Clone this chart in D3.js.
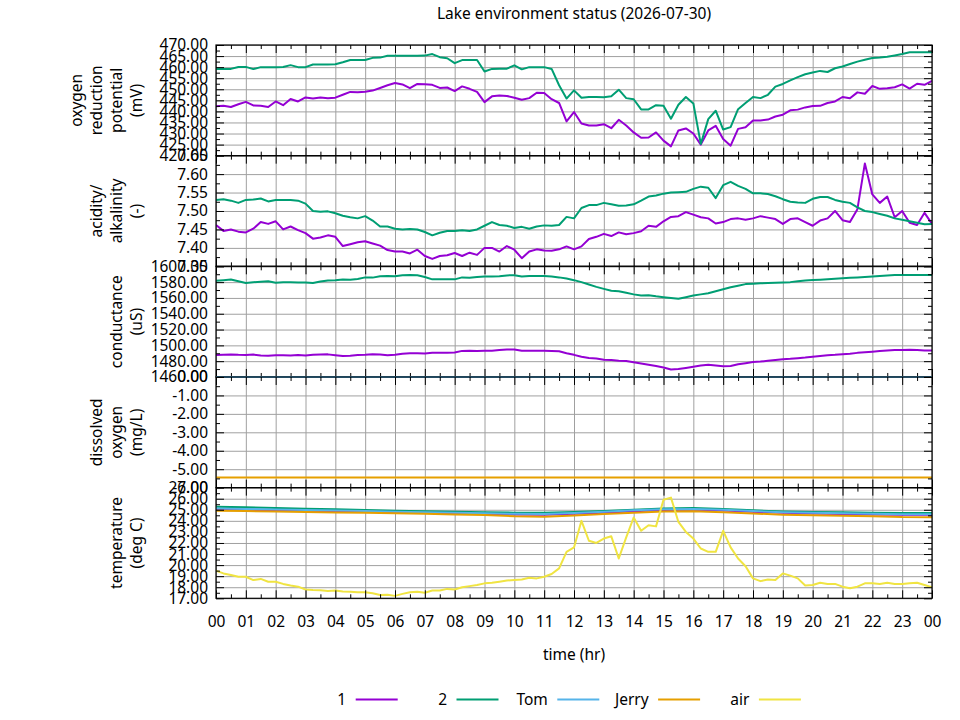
<!DOCTYPE html>
<html>
<head>
<meta charset="utf-8">
<script src="https://cdn.jsdelivr.net/npm/d3@7"></script>
<style>
  body { margin: 0; background: #fff; }
  svg { display: block; }
  text { font-family: "Noto Sans", sans-serif; font-size: 15.5px; fill: #000; }
</style>
</head>
<body>
<svg id="chart" width="960" height="720"></svg>
<script>
// ---- data -------------------------------------------------------------
const title = "Lake environment status (2026-07-30)";
const seriesNames = ["1", "2", "Tom", "Jerry", "air"];
const seriesColors = ["#9400d3", "#009e73", "#56b4e9", "#e69f00", "#f0e442"];

// sample clocks: every 15 minutes, every hour, and the day's two ends
const quarterHours = d3.range(0, 24.001, 0.25);
const wholeHours = d3.range(0, 25);
const dayEnds = [0, 24];

// oxygen reduction potential (mV), one row per hour
const orp1 = [
  442.3, 442.6, 442.0, 443.2,  444.3, 442.7, 442.5, 442.0,  444.5, 442.8, 445.6, 444.5,
  446.3, 445.8, 446.3, 445.9,  446.2, 447.5, 448.8, 448.6,  448.9, 449.4, 450.6, 451.8,
  452.8, 452.2, 450.5, 452.4,  452.3, 452.0, 450.6, 450.8,  449.2, 451.3, 450.2, 448.8,
  444.2, 446.8, 447.2, 447.0,  446.2, 445.3, 446.0, 448.4,  448.3, 445.5, 443.8, 435.5,
  439.7, 434.5, 433.6, 433.6,  434.2, 432.4, 436.2, 433.6,  430.5, 428.1, 428.2, 430.5,
  426.8, 424.2, 431.4, 432.3,  430.0, 425.0, 431.4, 433.5,  427.5, 424.5, 432.1, 432.8,
  435.9, 435.9, 436.3, 437.7,  438.5, 440.5, 440.8, 441.8,  442.4, 442.5, 443.8, 444.5,
  446.5, 445.9, 448.6, 448.0,  451.5, 450.2, 450.5, 450.9,  452.2, 450.3, 452.5, 452.0,
  453.8
];
const orp2 = [
  459.1, 459.1, 459.2, 460.1,  460.1, 459.1, 460.0, 460.0,  460.0, 460.1, 460.9, 460.0,
  460.0, 461.2, 461.2, 461.2,  461.3, 462.2, 463.2, 463.2,  463.2, 464.2, 464.3, 465.1,
  465.1, 465.1, 465.1, 465.1,  465.2, 465.9, 464.5, 464.0,  461.8, 463.2, 463.2, 463.2,
  458.0, 459.2, 459.3, 459.3,  460.8, 459.0, 460.0, 460.0,  460.0, 459.2, 451.8, 445.8,
  449.5, 446.2, 446.5, 446.5,  446.4, 446.8, 449.8, 446.0,  445.5, 440.9, 440.9, 442.8,
  442.5, 436.7, 443.0, 446.5,  443.6, 425.3, 436.5, 440.3,  431.8, 432.9, 441.0, 443.8,
  446.5, 446.0, 447.5, 451.2,  452.4, 454.0, 455.5, 456.8,  457.6, 458.3, 457.8, 459.5,
  460.3, 461.4, 462.5, 463.3,  464.1, 464.3, 464.7, 465.3,  465.9, 466.7, 466.7, 466.7,
  466.7
];

// acidity / alkalinity (pH)
const ph1 = [
  7.462, 7.446, 7.450, 7.444,  7.442, 7.452, 7.470, 7.465,  7.472, 7.450, 7.458, 7.448,
  7.440, 7.425, 7.428, 7.434,  7.430, 7.405, 7.410, 7.415,  7.418, 7.412, 7.406, 7.394,
  7.390, 7.390, 7.385, 7.395,  7.378, 7.370, 7.378, 7.380,  7.386, 7.378, 7.387, 7.381,
  7.400, 7.400, 7.390, 7.405,  7.395, 7.372, 7.390, 7.396,  7.393, 7.392, 7.396, 7.404,
  7.396, 7.404, 7.424, 7.430,  7.438, 7.432, 7.442, 7.437,  7.440, 7.445, 7.460, 7.457,
  7.472, 7.484, 7.486, 7.497,  7.490, 7.483, 7.480, 7.466,  7.470, 7.478, 7.480, 7.476,
  7.480, 7.486, 7.482, 7.478,  7.465, 7.478, 7.480, 7.470,  7.460, 7.474, 7.480, 7.500,
  7.475, 7.470, 7.505, 7.629,  7.545, 7.522, 7.539, 7.483,  7.500, 7.468, 7.462, 7.495,
  7.465
];
const ph2 = [
  7.530, 7.532, 7.528, 7.522,  7.530, 7.531, 7.534, 7.526,  7.530, 7.530, 7.530, 7.528,
  7.520, 7.500, 7.498, 7.499,  7.494, 7.487, 7.483, 7.480,  7.486, 7.474, 7.458, 7.458,
  7.452, 7.450, 7.451, 7.450,  7.443, 7.434, 7.441, 7.446,  7.446, 7.448, 7.446, 7.450,
  7.460, 7.470, 7.462, 7.460,  7.454, 7.457, 7.452, 7.458,  7.461, 7.460, 7.462, 7.484,
  7.480, 7.508, 7.516, 7.516,  7.522, 7.518, 7.514, 7.515,  7.518, 7.528, 7.539, 7.542,
  7.547, 7.550, 7.551, 7.552,  7.560, 7.566, 7.563, 7.535,  7.570, 7.579, 7.568, 7.560,
  7.548, 7.548, 7.546, 7.540,  7.532, 7.525, 7.523, 7.522,  7.533, 7.538, 7.538, 7.530,
  7.525, 7.522, 7.510, 7.500,  7.497, 7.492, 7.487, 7.480,  7.476, 7.472, 7.468, 7.464,
  7.465
];

// conductance (uS)
const cond1 = [
  1487.8, 1488.2, 1488.5, 1488.0,  1487.8, 1488.3, 1487.2, 1487.0,  1487.6, 1487.5, 1487.2, 1487.8,
  1487.3, 1488.0, 1488.5, 1488.6,  1487.6, 1486.5, 1487.0, 1487.8,  1488.0, 1488.8, 1488.5, 1487.5,
  1488.0, 1489.5, 1490.0, 1490.0,  1489.8, 1490.6, 1490.6, 1490.8,  1491.0, 1493.0, 1493.2, 1493.0,
  1493.2, 1493.2, 1494.0, 1494.8,  1494.8, 1493.2, 1493.2, 1493.2,  1493.2, 1493.0, 1492.5, 1490.0,
  1488.0, 1485.5, 1484.0, 1483.5,  1481.8, 1481.5, 1480.5, 1480.2,  1478.5, 1477.0, 1475.5, 1474.0,
  1472.0, 1469.5, 1470.0, 1471.5,  1473.0, 1474.5, 1475.5, 1474.5,  1473.5, 1474.0, 1476.0, 1477.5,
  1479.0, 1479.5, 1480.5, 1481.5,  1482.5, 1483.0, 1483.8, 1484.5,  1485.5, 1486.5, 1487.5, 1488.0,
  1488.8, 1489.5, 1490.5, 1491.2,  1492.0, 1492.8, 1493.5, 1494.0,  1494.2, 1494.5, 1494.0, 1493.5,
  1493.6
];
const cond2 = [
  1581.8, 1582.5, 1583.3, 1581.0,  1578.8, 1579.8, 1580.4, 1581.0,  1579.2, 1579.8, 1580.0, 1579.5,
  1579.6, 1579.0, 1580.8, 1582.0,  1582.4, 1583.3, 1583.0, 1584.0,  1586.0, 1585.7, 1587.3, 1587.8,
  1587.5, 1588.8, 1589.0, 1588.8,  1586.5, 1583.5, 1583.6, 1583.8,  1583.5, 1586.0, 1585.5, 1586.5,
  1587.2, 1587.0, 1587.4, 1588.5,  1588.8, 1587.0, 1587.7, 1587.7,  1587.7, 1587.0, 1586.0, 1584.5,
  1582.5, 1580.0, 1577.0, 1574.0,  1571.5, 1569.0, 1568.5, 1566.5,  1564.5, 1563.0, 1563.5, 1562.0,
  1561.0, 1560.0, 1559.0, 1561.0,  1563.0, 1564.5, 1566.0, 1568.5,  1571.0, 1573.5, 1575.5, 1577.5,
  1578.0, 1578.5, 1579.0, 1579.2,  1579.6, 1580.0, 1581.0, 1582.0,  1582.6, 1583.0, 1583.5, 1584.2,
  1585.0, 1585.5, 1586.0, 1586.4,  1587.0, 1587.8, 1588.5, 1588.9,  1589.0, 1589.0, 1589.0, 1589.0,
  1589.0
];

// dissolved oxygen (mg/L)
const doTom = [0.00, 0.00];
const doJerry = [-5.45, -5.45];

// temperature (deg C): lake sensors hourly, air every 15 minutes
const temp1 = [25.08, 25.02, 24.98, 24.92, 24.88, 24.82, 24.76, 24.72, 24.66, 24.62, 24.58, 24.56, 24.64,
               24.74, 24.86, 24.98, 25.02, 24.94, 24.82, 24.72, 24.66, 24.62, 24.58, 24.54, 24.55];
const temp2 = [25.28, 25.22, 25.15, 25.10, 25.05, 24.98, 24.92, 24.87, 24.82, 24.78, 24.74, 24.72, 24.80,
               24.90, 25.00, 25.12, 25.15, 25.08, 24.95, 24.85, 24.80, 24.78, 24.74, 24.70, 24.70];
const tempTom = [25.12, 25.08, 25.03, 24.98, 24.93, 24.88, 24.83, 24.78, 24.73, 24.68, 24.64, 24.62, 24.70,
                 24.82, 24.95, 25.05, 25.08, 25.00, 24.88, 24.78, 24.72, 24.68, 24.64, 24.60, 24.60];
const tempJerry = [24.92, 24.88, 24.85, 24.80, 24.76, 24.72, 24.68, 24.64, 24.58, 24.52, 24.42, 24.38, 24.48,
                   24.62, 24.74, 24.84, 24.86, 24.78, 24.66, 24.56, 24.50, 24.46, 24.42, 24.34, 24.32];
const tempAir = [
  19.50, 19.25, 19.10, 18.95,  18.95, 18.65, 18.75, 18.50,  18.50, 18.30, 18.15, 18.05,
  17.80, 17.75, 17.72, 17.65,  17.70, 17.62, 17.60, 17.55,  17.55, 17.45, 17.30, 17.32,
  17.22, 17.40, 17.55, 17.60,  17.50, 17.70, 17.70, 17.85,  17.80, 18.00, 18.10, 18.20,
  18.35, 18.40, 18.50, 18.60,  18.65, 18.70, 18.85, 18.80,  18.95, 19.20, 19.70, 21.20,
  21.60, 24.00, 22.20, 22.00,  22.40, 22.60, 20.60, 22.50,  24.30, 23.10, 23.60, 23.50,
  25.90, 26.10, 23.90, 23.00,  22.40, 21.50, 21.20, 21.20,  23.10, 21.60, 20.60, 19.90,
  18.80, 18.55, 18.70, 18.65,  19.25, 19.05, 18.80, 18.15,  18.20, 18.40, 18.30, 18.30,
  18.05, 17.90, 18.05, 18.35,  18.35, 18.30, 18.40, 18.30,  18.30, 18.35, 18.40, 18.20,
  18.00
];

// axis ticks
const hourTicks = d3.range(0, 25);
const orpTicks = [420, 425, 430, 435, 440, 445, 450, 455, 460, 465, 470];
const phTicks = [7.35, 7.40, 7.45, 7.50, 7.55, 7.60, 7.65];
const condTicks = [1460, 1480, 1500, 1520, 1540, 1560, 1580, 1600];
const doTicks = [-6, -5, -4, -3, -2, -1, 0];
const tempTicks = [17, 18, 19, 20, 21, 22, 23, 24, 25, 26, 27];

const panels = [
  { label: ["oxygen", "reduction", "potential", "(mV)"], ticks: orpTicks,
    lines: [[0, quarterHours, orp1], [1, quarterHours, orp2]] },
  { label: ["acidity/", "alkalinity", "(-)"], ticks: phTicks,
    lines: [[0, quarterHours, ph1], [1, quarterHours, ph2]] },
  { label: ["conductance", "(uS)"], ticks: condTicks,
    lines: [[0, quarterHours, cond1], [1, quarterHours, cond2]] },
  { label: ["dissolved", "oxygen", "(mg/L)"], ticks: doTicks,
    lines: [[2, dayEnds, doTom], [3, dayEnds, doJerry]] },
  { label: ["temperature", "(deg C)"], ticks: tempTicks,
    lines: [[0, wholeHours, temp1], [1, wholeHours, temp2], [2, wholeHours, tempTom],
            [3, wholeHours, tempJerry], [4, quarterHours, tempAir]] }
];

// ---- layout -----------------------------------------------------------
const plotLeft = 216, plotRight = 932, plotTop = 45, panelH = 110.66;
const majorLen = 8, minorLen = 4;
const gridColor = "#a0a0a0";
// plain hyphen for negatives, like the original
const locale = d3.formatLocale({ decimal: ".", thousands: ",", grouping: [3], currency: ["", ""], minus: "-" });
const fmt = locale.format(".2f");

const svg = d3.select("#chart");
const x = d3.scaleLinear().domain([0, 24]).range([plotLeft, plotRight]);
const halfHours = d3.pairs(hourTicks).map(([a, b]) => (a + b) / 2);

svg.append("text")
  .attr("x", (plotLeft + plotRight) / 2).attr("y", 18.5)
  .attr("text-anchor", "middle")
  .text(title);

const tickStyle = s => {
  s.select(".domain").remove();
  s.selectAll("line").attr("stroke", "#000").attr("stroke-width", 1);
};

panels.forEach((p, i) => {
  const y0 = plotTop + i * panelH, y1 = y0 + panelH;
  const y = d3.scaleLinear().domain(d3.extent(p.ticks)).range([y1, y0]);
  const minorY = d3.pairs(p.ticks).map(([a, b]) => (a + b) / 2);
  const g = svg.append("g");

  // grid
  g.append("g")
    .attr("transform", `translate(0,${y1})`)
    .call(d3.axisBottom(x).tickValues(hourTicks).tickSize(-(y1 - y0)).tickFormat(""))
    .call(s => s.select(".domain").remove())
    .selectAll("line").attr("stroke", gridColor);
  g.append("g")
    .attr("transform", `translate(${plotLeft},0)`)
    .call(d3.axisLeft(y).tickValues(p.ticks).tickSize(-(plotRight - plotLeft)).tickFormat(""))
    .call(s => s.select(".domain").remove())
    .selectAll("line").attr("stroke", gridColor);

  // data
  const clipId = `clip${i}`;
  g.append("clipPath").attr("id", clipId)
    .append("rect")
    .attr("x", plotLeft).attr("y", y0 - 1.5)
    .attr("width", plotRight - plotLeft).attr("height", y1 - y0 + 3);

  const plot = g.append("g").attr("clip-path", `url(#${clipId})`);
  p.lines.forEach(([k, times, values]) => {
    const line = d3.line().x(d => x(d[0])).y(d => y(d[1]));
    plot.append("path")
      .datum(d3.zip(times, values))
      .attr("fill", "none")
      .attr("stroke", seriesColors[k])
      .attr("stroke-width", 2)
      .attr("stroke-linejoin", "round")
      .attr("d", line);
  });

  // y ticks, both sides
  g.append("g").attr("transform", `translate(${plotLeft},0)`)
    .call(d3.axisLeft(y).tickValues(p.ticks).tickSizeInner(-majorLen).tickSizeOuter(0)
      .tickPadding(8).tickFormat(fmt))
    .call(tickStyle);
  g.append("g").attr("transform", `translate(${plotLeft},0)`)
    .call(d3.axisLeft(y).tickValues(minorY).tickSize(-minorLen).tickFormat(""))
    .call(tickStyle);
  g.append("g").attr("transform", `translate(${plotRight},0)`)
    .call(d3.axisRight(y).tickValues(p.ticks).tickSize(-majorLen).tickFormat(""))
    .call(tickStyle);
  g.append("g").attr("transform", `translate(${plotRight},0)`)
    .call(d3.axisRight(y).tickValues(minorY).tickSize(-minorLen).tickFormat(""))
    .call(tickStyle);

  // x ticks, top and bottom
  const last = i === panels.length - 1;
  g.append("g").attr("transform", `translate(0,${y1})`)
    .call(d3.axisBottom(x).tickValues(hourTicks).tickSizeInner(-majorLen).tickSizeOuter(0)
      .tickPadding(18).tickFormat(last ? d => d3.format("02d")(d % 24) : ""))
    .call(tickStyle);
  g.append("g").attr("transform", `translate(0,${y1})`)
    .call(d3.axisBottom(x).tickValues(halfHours).tickSize(-minorLen).tickFormat(""))
    .call(tickStyle);
  g.append("g").attr("transform", `translate(0,${y0})`)
    .call(d3.axisTop(x).tickValues(hourTicks).tickSize(-majorLen).tickFormat(""))
    .call(tickStyle);
  g.append("g").attr("transform", `translate(0,${y0})`)
    .call(d3.axisTop(x).tickValues(halfHours).tickSize(-minorLen).tickFormat(""))
    .call(tickStyle);

  // border
  g.append("rect")
    .attr("x", plotLeft).attr("y", y0)
    .attr("width", plotRight - plotLeft).attr("height", y1 - y0)
    .attr("fill", "none").attr("stroke", "#000").attr("stroke-width", 1.2);

  // y label, several rotated lines ending at x = 137
  const yc = (y0 + y1) / 2, n = p.label.length;
  p.label.forEach((txt, j) => {
    g.append("text")
      .attr("transform", `translate(${137 - (n - 1 - j) * 20},${yc}) rotate(-90)`)
      .attr("text-anchor", "middle")
      .attr("dy", "0.35em")
      .text(txt);
  });
});

svg.append("text")
  .attr("x", (plotLeft + plotRight) / 2).attr("y", 660)
  .attr("text-anchor", "middle")
  .text("time (hr)");

// legend
const legendY = 699.5, legendX0 = 355.7, legendStep = 100.8, legendLen = 42;
const legend = svg.append("g");
seriesNames.forEach((name, k) => {
  const lx = legendX0 + k * legendStep;
  legend.append("text")
    .attr("x", lx - 9.5).attr("y", legendY)
    .attr("dy", "0.35em")
    .attr("text-anchor", "end")
    .text(name);
  legend.append("line")
    .attr("x1", lx).attr("x2", lx + legendLen)
    .attr("y1", legendY).attr("y2", legendY)
    .attr("stroke", seriesColors[k]).attr("stroke-width", 2);
});
</script>
</body>
</html>
